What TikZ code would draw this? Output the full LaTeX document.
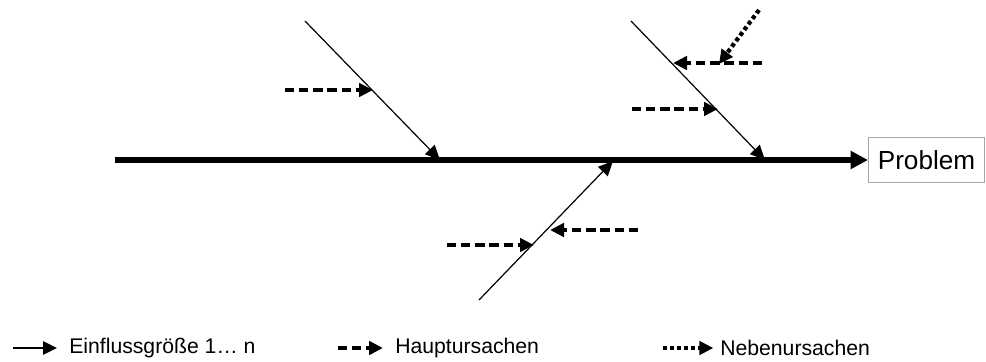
\documentclass[tikz,border=0pt]{standalone}
\usepackage{fontspec}
\setmainfont{Liberation Sans}
\usetikzlibrary{arrows.meta}
\begin{document}
\begin{tikzpicture}[x=0.75pt, y=-0.75pt]
	\tikzset{e/.style={-{Triangle[length=11pt, width=10pt]}, line width=0.9pt},
	h/.style={-{Triangle[length=10.5pt, width=10pt]}, line width=3.2pt, dash pattern=on 7pt off 3.6pt},
	nb/.style={-{Triangle[length=10.5pt, width=10pt]}, line width=3.2pt, dash pattern=on 3pt off 2.2pt},
	leg/.style={anchor=west, inner sep=0pt, font=\fontsize{15.9}{18}\selectfont}};
	\useasboundingbox (0,0) rectangle (986,361);

	% Problem und Hauptgraete
	\node[draw=gray!70, line width=0.8pt, minimum width=87pt, minimum height=34pt, inner sep=0pt,
		font=\fontsize{19.6}{22}\selectfont] (p) at (926.5,160) {Problem};
	\coordinate (k) at (115,160);
	\draw[-{Triangle[length=13pt, width=13pt]}, line width=3.8pt] (k) -- (p.west);

	% Einflussgroessen
	\coordinate (a1) at (305,21);
	\coordinate (a2) at (440,160);
	\coordinate (b1) at (631,21);
	\coordinate (b2) at (765,160);
	\coordinate (c1) at (479,300);
	\coordinate (c2) at (613,161);
	\draw[e] (a1) to (a2);
	\draw[e] (b1) to (b2);
	\draw[e] (c1) to (c2);

	% Hauptursachen
	\coordinate (h1) at (285,90);
	\coordinate (h1e) at (373,90);
	\coordinate (h2) at (632,109);
	\coordinate (h2e) at (718,109);
	\coordinate (h3) at (762,63);
	\coordinate (h3e) at (673,63);
	\coordinate (h4) at (447,245);
	\coordinate (h4e) at (534,245);
	\coordinate (h5) at (638,230);
	\coordinate (h5e) at (550,230);
	\draw[h] (h1) to (h1e);
	\draw[h] (h2) to (h2e);
	\draw[h] (h3) to (h3e);
	\draw[h] (h4) to (h4e);
	\draw[h] (h5) to (h5e);

	% Nebenursache
	\coordinate (n1) at (759,10);
	\coordinate (n1e) at (719,64);
	\draw[nb] (n1) to (n1e);

	% Legende
	\node[leg] (l1) at (69,348) {Einflussgröße 1… n};
	\node[leg] (l2) at (395,348) {Hauptursachen};
	\node[leg] (l3) at (720,348) {Nebenursachen};
	\coordinate (s1) at (13,348);
	\coordinate (s2) at (338,348);
	\coordinate (s3) at (663,348);
	\draw[-{Triangle[length=10.5pt, width=10pt]}, line width=1.5pt] (s1) to ([xshift=-9pt]l1.west);
	\draw[h] (s2) to ([xshift=-9pt]l2.west);
	\draw[nb] (s3) to ([xshift=-5pt]l3.west);
\end{tikzpicture}
\end{document}
